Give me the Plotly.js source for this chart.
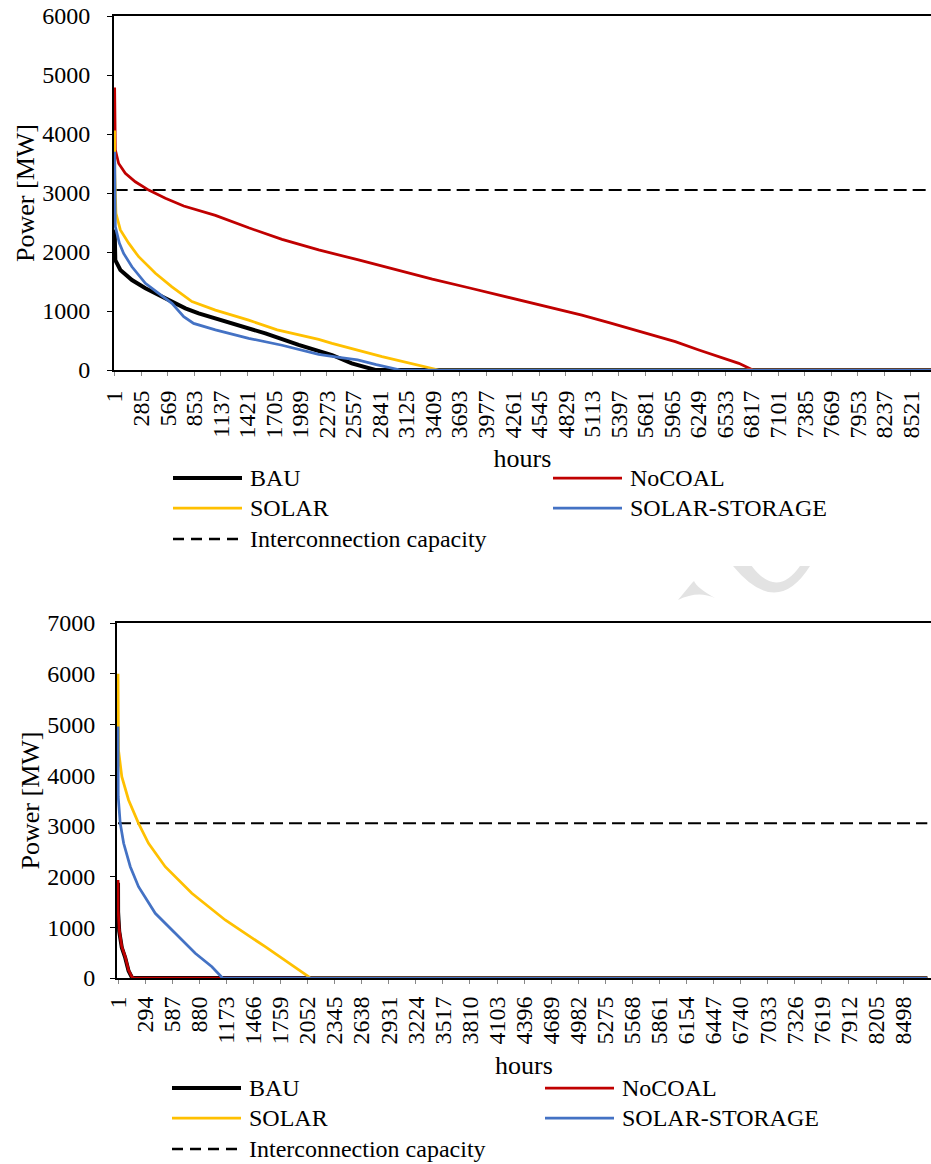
<!DOCTYPE html>
<html>
<head>
<meta charset="utf-8">
<script src="https://cdn.plot.ly/plotly-3.0.1.min.js"></script>
<style>html,body{margin:0;padding:0;background:#fff;}#chart{width:931px;height:1164px;}</style>
</head>
<body>
<div id="chart"></div>
<script>
// ---------------- DATA ----------------
const seriesNames = ['BAU', 'NoCOAL', 'SOLAR', 'SOLAR-STORAGE'];
const capacityName = 'Interconnection capacity';
const interconnectionMW = 3050;
const capacityHours = [1, 8760];

// Top panel
const topBauHours = [1,2,8,62,186,330,544,758,900,1256,1614,1970,2184,2327,2538,2791,8760];
const topBauMW    = [2380,2030,1860,1695,1525,1385,1215,1045,960,790,620,425,320,254,113,0,0];
const topNocoalHours = [1,2,8,44,115,222,365,544,740,1079,1435,1792,2184,2600,3000,3400,3800,4200,4600,5000,5300,5520,5788,6000,6252,6500,6680,6830,8760];
const topNocoalMW    = [4790,4070,3730,3500,3335,3190,3050,2910,2780,2620,2410,2215,2035,1870,1700,1540,1390,1240,1090,930,800,700,585,480,340,215,113,0,0];
const topSolarHours = [1,2,15,62,151,258,437,614,828,1079,1435,1740,2184,2327,2862,3469,8760];
const topSolarMW    = [4060,3330,2655,2375,2150,1920,1640,1410,1160,1015,845,680,520,452,226,0,0];
const topStorageHours = [1,2,8,51,97,186,330,472,614,740,846,1079,1435,1792,2184,2400,2600,2800,3059,8760];
const topStorageMW    = [3700,2880,2430,2150,1975,1750,1470,1300,1130,905,790,680,537,420,265,215,170,90,0,0];
const topTickLabels = ['1','285','569','853','1137','1421','1705','1989','2273','2557','2841','3125','3409','3693','3977','4261','4545','4829','5113','5397','5681','5965','6249','6533','6817','7101','7385','7669','7953','8237','8521'];

// Bottom panel
const botBauHours = [1,2,14,42,79,115,150,165,8760];
const botBauMW    = [1880,1300,920,600,400,140,15,0,0];
const botNocoalHours = [1,2,14,42,79,115,150,169,8760];
const botNocoalMW    = [1930,1340,950,617,420,158,26,0,0];
const botSolarHours = [1,2,6,42,115,223,331,512,800,1161,1594,2063,2081,8760];
const botSolarMW    = [6000,5285,4496,3970,3510,3050,2656,2195,1670,1144,617,26,0,0];
const botStorageHours = [1,2,3,25,62,134,223,404,620,837,1017,1125,1132,8760];
const botStorageMW    = [4960,4300,3575,3050,2656,2195,1800,1276,881,487,223,26,0,0];
const botTickLabels = ['1','294','587','880','1173','1466','1759','2052','2345','2638','2931','3224','3517','3810','4103','4396','4689','4982','5275','5568','5861','6154','6447','6740','7033','7326','7619','7912','8205','8498'];

// ---------------- STYLE ----------------
const W = 931, H = 1164;
const FONT = 'Liberation Serif, Times New Roman, serif';
const colors = ['#000000', '#C00000', '#FFC000', '#4472C4'];
const widths = [4, 2.75, 2.75, 2.75];
const px = x => x / W;
const py = y => 1 - y / H;

function lineTrace(x, y, i, xa, ya) {
  return {type: 'scatter', mode: 'lines', x: x, y: y, name: seriesNames[i],
    xaxis: xa, yaxis: ya, showlegend: false, hoverinfo: 'skip',
    line: {color: colors[i], width: widths[i]}};
}
function capTrace(xa, ya) {
  return {type: 'scatter', mode: 'lines', x: capacityHours,
    y: capacityHours.map(() => interconnectionMW), name: capacityName,
    xaxis: xa, yaxis: ya, showlegend: false, hoverinfo: 'skip',
    line: {color: '#000', width: 2, dash: '13px,6px'}};
}

const traces = [
  capTrace('x', 'y'),
  lineTrace(topBauHours, topBauMW, 0, 'x', 'y'),
  lineTrace(topNocoalHours, topNocoalMW, 1, 'x', 'y'),
  lineTrace(topSolarHours, topSolarMW, 2, 'x', 'y'),
  lineTrace(topStorageHours, topStorageMW, 3, 'x', 'y'),
  capTrace('x2', 'y2'),
  lineTrace(botBauHours, botBauMW, 0, 'x2', 'y2'),
  lineTrace(botNocoalHours, botNocoalMW, 1, 'x2', 'y2'),
  lineTrace(botSolarHours, botSolarMW, 2, 'x2', 'y2'),
  lineTrace(botStorageHours, botStorageMW, 3, 'x2', 'y2')
];

function xAxis(domain, range, labels, anchor, lblStand, titleStand) {
  return {domain: domain, range: range, anchor: anchor,
    tickmode: 'array', tickvals: labels.map(Number), ticktext: labels,
    tickangle: -90, tickfont: {family: FONT, size: 24, color: '#000'},
    ticks: 'outside', ticklen: 4, tickcolor: '#888', ticklabelstandoff: lblStand,
    showline: true, linecolor: '#000', linewidth: 2, mirror: true,
    showgrid: false, zeroline: false, layer: 'below traces', fixedrange: true,
    title: {text: 'hours', font: {family: FONT, size: 26, color: '#000'}, standoff: titleStand}};
}
function yAxis(domain, max, anchor, lblStand, titleStand) {
  return {domain: domain, range: [0, max], dtick: 1000, anchor: anchor,
    tickfont: {family: FONT, size: 24, color: '#000'},
    ticks: 'outside', ticklen: 5, tickcolor: '#000', ticklabelstandoff: lblStand,
    showline: true, linecolor: '#000', linewidth: 2, mirror: true,
    showgrid: false, zeroline: false, layer: 'below traces', fixedrange: true,
    title: {text: 'Power [MW]', font: {family: FONT, size: 26, color: '#000'}, standoff: titleStand}};
}

// Manual legends (two columns, three rows) for each panel
const shapes = [], annotations = [];
function legend(rows, col1x, col2x, textGap) {
  const items = [
    {i: 0, col: col1x, y: rows[0]}, {i: 1, col: col2x, y: rows[0]},
    {i: 2, col: col1x, y: rows[1]}, {i: 3, col: col2x, y: rows[1]}
  ];
  items.forEach(it => {
    shapes.push({type: 'line', xref: 'paper', yref: 'paper',
      x0: px(it.col), x1: px(it.col + 69), y0: py(it.y), y1: py(it.y),
      line: {color: colors[it.i], width: widths[it.i]}});
    annotations.push({xref: 'paper', yref: 'paper', x: px(it.col + textGap), y: py(it.y),
      xanchor: 'left', yanchor: 'middle', showarrow: false, text: seriesNames[it.i],
      font: {family: FONT, size: 24, color: '#000'}});
  });
  shapes.push({type: 'line', xref: 'paper', yref: 'paper',
    x0: px(col1x), x1: px(col1x + 67), y0: py(rows[2]), y1: py(rows[2]),
    line: {color: '#000', width: 2.5, dash: '11px,7px'}});
  annotations.push({xref: 'paper', yref: 'paper', x: px(col1x + textGap), y: py(rows[2]),
    xanchor: 'left', yanchor: 'middle', showarrow: false, text: capacityName,
    font: {family: FONT, size: 24, color: '#000'}});
}
legend([478, 508, 539], 173, 553, 75);
legend([1088, 1118, 1149], 172, 545, 75);

// faint watermark fragments
function pathPx(cmds) {
  return cmds.map(c => typeof c === 'string' ? c : (px(c[0]).toFixed(5) + ',' + py(c[1]).toFixed(5))).join(' ');
}
shapes.push({type: 'path', xref: 'paper', yref: 'paper', layer: 'below',
  path: pathPx(['M', [733, 566], 'Q', [776.7, 619], [810, 566], 'L', [800, 566], 'Q', [776.7, 599], [751.7, 566], 'Z']),
  fillcolor: '#e3e3e3', line: {width: 0}});
shapes.push({type: 'path', xref: 'paper', yref: 'paper', layer: 'below',
  path: pathPx(['M', [678, 600], 'Q', [688, 588], [692, 583], 'L', [694, 581], 'Q', [697, 588], [715, 598], 'Q', [698, 590], [678, 600], 'Z']),
  fillcolor: '#e3e3e3', line: {width: 0}});

const layout = {
  width: W, height: H,
  margin: {l: 0, r: 0, t: 0, b: 0},
  paper_bgcolor: '#fff', plot_bgcolor: '#fff',
  showlegend: false,
  font: {family: FONT, color: '#000'},
  xaxis: xAxis([114 / W, 1], [-6, 8736], topTickLabels, 'y', 5, 11),
  yaxis: yAxis([py(370), py(16)], 6000, 'x', 12, 0),
  xaxis2: xAxis([117 / W, 1], [-10, 8800], botTickLabels, 'y2', 3, 12),
  yaxis2: yAxis([py(978), py(623)], 7000, 'x2', 10, 0),
  shapes: shapes,
  annotations: annotations
};

Plotly.newPlot('chart', traces, layout, {staticPlot: true, displayModeBar: false});
</script>
</body>
</html>
